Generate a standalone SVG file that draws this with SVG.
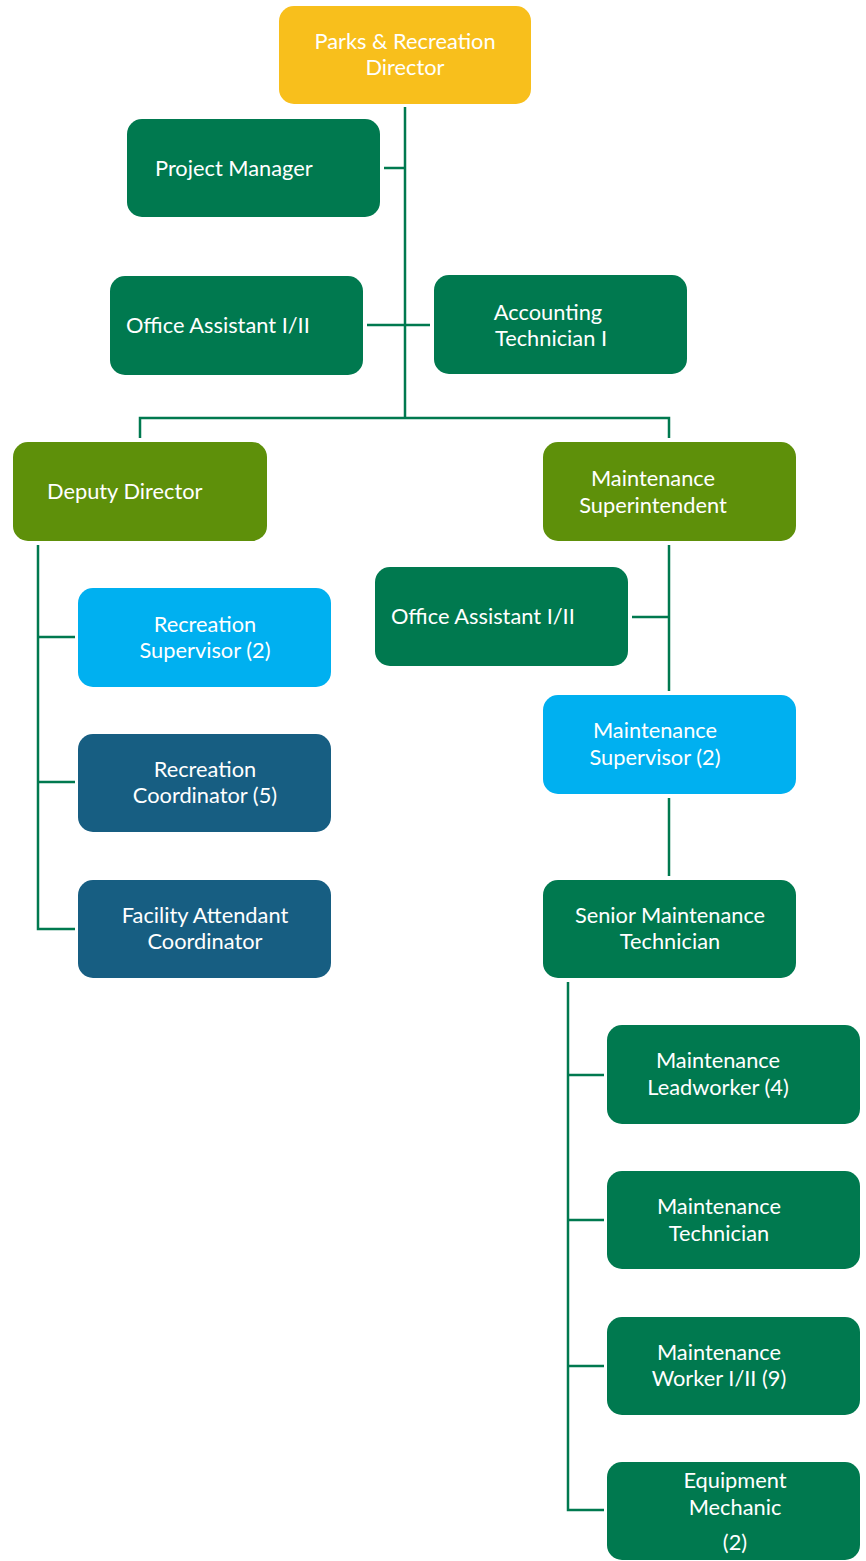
<svg xmlns="http://www.w3.org/2000/svg" width="866" height="1561" viewBox="0 0 866 1561">
  <style>
    .box { stroke: none; }
    .yellow { fill: #F8BF1C; }
    .green { fill: #00794F; }
    .olive { fill: #5E900A; }
    .sky { fill: #00B0F0; }
    .navy { fill: #175E82; }
    .lbl { font-family: Lato, "Open Sans", "Liberation Sans", sans-serif; font-size: 21.8px; fill: #FFFFFF; }
    .mid { text-anchor: middle; }
    .wire { stroke: #00794F; stroke-width: 2.5; fill: none; }
  </style>

  <!-- reporting lines -->
  <g id="connectors">
    <path class="wire" d="M405 107 V418"/>
    <path class="wire" d="M384 168 H405"/>
    <path class="wire" d="M367 325 H430"/>
    <path class="wire" d="M140 438 V418 H669 V438"/>
    <path class="wire" d="M38 545 V929 H75"/>
    <path class="wire" d="M38 637 H75"/>
    <path class="wire" d="M38 782 H75"/>
    <path class="wire" d="M669 545 V691"/>
    <path class="wire" d="M632 617 H669"/>
    <path class="wire" d="M669 798 V876"/>
    <path class="wire" d="M568 982 V1510 H604"/>
    <path class="wire" d="M568 1075 H604"/>
    <path class="wire" d="M568 1220 H604"/>
    <path class="wire" d="M568 1366 H604"/>
  </g>

  <g id="director">
    <rect class="box yellow" x="279" y="6" width="252" height="98" rx="15"/>
    <text class="lbl mid" x="405" y="49">Parks &amp; Recreation</text>
    <text class="lbl mid" x="405" y="75">Director</text>
  </g>

  <g id="project-manager">
    <rect class="box green" x="127" y="119" width="253" height="98" rx="15"/>
    <text class="lbl" x="155" y="176">Project Manager</text>
  </g>

  <g id="office-assistant-1">
    <rect class="box green" x="110" y="276" width="253" height="99" rx="15"/>
    <text class="lbl" x="126" y="333">Office Assistant I/II</text>
  </g>

  <g id="accounting-technician">
    <rect class="box green" x="434" y="275" width="253" height="99" rx="15"/>
    <text class="lbl mid" x="548" y="320">Accounting</text>
    <text class="lbl mid" x="551" y="346">Technician I</text>
  </g>

  <g id="deputy-director">
    <rect class="box olive" x="13" y="442" width="254" height="99" rx="15"/>
    <text class="lbl" x="47" y="499">Deputy Director</text>
  </g>

  <g id="maintenance-superintendent">
    <rect class="box olive" x="543" y="442" width="253" height="99" rx="15"/>
    <text class="lbl mid" x="653" y="486">Maintenance</text>
    <text class="lbl mid" x="653" y="513">Superintendent</text>
  </g>

  <g id="office-assistant-2">
    <rect class="box green" x="375" y="567" width="253" height="99" rx="15"/>
    <text class="lbl" x="391" y="624">Office Assistant I/II</text>
  </g>

  <g id="recreation-supervisor">
    <rect class="box sky" x="78" y="588" width="253" height="99" rx="15"/>
    <text class="lbl mid" x="205" y="632">Recreation</text>
    <text class="lbl mid" x="205" y="658">Supervisor (2)</text>
  </g>

  <g id="maintenance-supervisor">
    <rect class="box sky" x="543" y="695" width="253" height="99" rx="15"/>
    <text class="lbl mid" x="655" y="738">Maintenance</text>
    <text class="lbl mid" x="655" y="765">Supervisor (2)</text>
  </g>

  <g id="recreation-coordinator">
    <rect class="box navy" x="78" y="734" width="253" height="98" rx="15"/>
    <text class="lbl mid" x="205" y="777">Recreation</text>
    <text class="lbl mid" x="205" y="803">Coordinator (5)</text>
  </g>

  <g id="facility-attendant-coordinator">
    <rect class="box navy" x="78" y="880" width="253" height="98" rx="15"/>
    <text class="lbl mid" x="205" y="923">Facility Attendant</text>
    <text class="lbl mid" x="205" y="949">Coordinator</text>
  </g>

  <g id="senior-maintenance-technician">
    <rect class="box green" x="543" y="880" width="253" height="98" rx="15"/>
    <text class="lbl mid" x="670" y="923">Senior Maintenance</text>
    <text class="lbl mid" x="670" y="949">Technician</text>
  </g>

  <g id="maintenance-leadworker">
    <rect class="box green" x="607" y="1025" width="253" height="99" rx="15"/>
    <text class="lbl mid" x="718" y="1068">Maintenance</text>
    <text class="lbl mid" x="718" y="1095">Leadworker (4)</text>
  </g>

  <g id="maintenance-technician">
    <rect class="box green" x="607" y="1171" width="253" height="98" rx="15"/>
    <text class="lbl mid" x="719" y="1214">Maintenance</text>
    <text class="lbl mid" x="719" y="1241">Technician</text>
  </g>

  <g id="maintenance-worker">
    <rect class="box green" x="607" y="1317" width="253" height="98" rx="15"/>
    <text class="lbl mid" x="719" y="1360">Maintenance</text>
    <text class="lbl mid" x="719" y="1386">Worker I/II (9)</text>
  </g>

  <g id="equipment-mechanic">
    <rect class="box green" x="607" y="1462" width="253" height="98" rx="15"/>
    <text class="lbl mid" x="735" y="1488">Equipment</text>
    <text class="lbl mid" x="735" y="1515">Mechanic</text>
    <text class="lbl mid" x="735" y="1550">(2)</text>
  </g>
</svg>
